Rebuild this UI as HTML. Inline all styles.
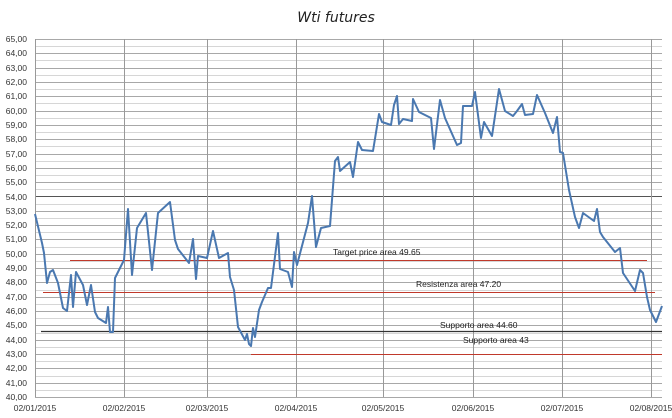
<!DOCTYPE html>
<html><head><meta charset="utf-8"><style>
body{margin:0;background:#fff}
svg{display:block;font-family:"Liberation Sans",sans-serif}
</style></head><body>
<svg width="672" height="418" viewBox="0 0 672 418" xmlns="http://www.w3.org/2000/svg">
<text x="336" y="22" text-anchor="middle" font-size="14" font-style="italic" font-family="'DejaVu Sans',sans-serif" fill="#222">Wti futures</text>
<g stroke="#d6d6d6" stroke-width="1">
<line x1="35" y1="46.5" x2="662" y2="46.5"/><line x1="35" y1="60.5" x2="662" y2="60.5"/><line x1="35" y1="75.5" x2="662" y2="75.5"/><line x1="35" y1="89.5" x2="662" y2="89.5"/><line x1="35" y1="103.5" x2="662" y2="103.5"/><line x1="35" y1="118.5" x2="662" y2="118.5"/><line x1="35" y1="132.5" x2="662" y2="132.5"/><line x1="35" y1="146.5" x2="662" y2="146.5"/><line x1="35" y1="161.5" x2="662" y2="161.5"/><line x1="35" y1="175.5" x2="662" y2="175.5"/><line x1="35" y1="189.5" x2="662" y2="189.5"/><line x1="35" y1="204.5" x2="662" y2="204.5"/><line x1="35" y1="218.5" x2="662" y2="218.5"/><line x1="35" y1="232.5" x2="662" y2="232.5"/><line x1="35" y1="247.5" x2="662" y2="247.5"/><line x1="35" y1="261.5" x2="662" y2="261.5"/><line x1="35" y1="275.5" x2="662" y2="275.5"/><line x1="35" y1="290.5" x2="662" y2="290.5"/><line x1="35" y1="304.5" x2="662" y2="304.5"/><line x1="35" y1="318.5" x2="662" y2="318.5"/><line x1="35" y1="333.5" x2="662" y2="333.5"/><line x1="35" y1="347.5" x2="662" y2="347.5"/><line x1="35" y1="361.5" x2="662" y2="361.5"/><line x1="35" y1="376.5" x2="662" y2="376.5"/><line x1="35" y1="390.5" x2="662" y2="390.5"/>
</g>
<g stroke="#a8a8a8" stroke-width="1">
<line x1="35" y1="39.5" x2="662" y2="39.5"/><line x1="35" y1="53.5" x2="662" y2="53.5"/><line x1="35" y1="68.5" x2="662" y2="68.5"/><line x1="35" y1="82.5" x2="662" y2="82.5"/><line x1="35" y1="96.5" x2="662" y2="96.5"/><line x1="35" y1="111.5" x2="662" y2="111.5"/><line x1="35" y1="125.5" x2="662" y2="125.5"/><line x1="35" y1="139.5" x2="662" y2="139.5"/><line x1="35" y1="154.5" x2="662" y2="154.5"/><line x1="35" y1="168.5" x2="662" y2="168.5"/><line x1="35" y1="182.5" x2="662" y2="182.5"/><line x1="35" y1="211.5" x2="662" y2="211.5"/><line x1="35" y1="225.5" x2="662" y2="225.5"/><line x1="35" y1="239.5" x2="662" y2="239.5"/><line x1="35" y1="254.5" x2="662" y2="254.5"/><line x1="35" y1="268.5" x2="662" y2="268.5"/><line x1="35" y1="282.5" x2="662" y2="282.5"/><line x1="35" y1="297.5" x2="662" y2="297.5"/><line x1="35" y1="311.5" x2="662" y2="311.5"/><line x1="35" y1="325.5" x2="662" y2="325.5"/><line x1="35" y1="340.5" x2="662" y2="340.5"/><line x1="35" y1="354.5" x2="662" y2="354.5"/><line x1="35" y1="368.5" x2="662" y2="368.5"/><line x1="35" y1="383.5" x2="662" y2="383.5"/><line x1="35" y1="397.5" x2="662" y2="397.5"/>
</g>
<line x1="35" y1="196.5" x2="662" y2="196.5" stroke="#555" stroke-width="1"/>
<g stroke="#999" stroke-width="1">
<line x1="35.5" y1="39" x2="35.5" y2="397"/>
<line x1="124.5" y1="39" x2="124.5" y2="397"/>
<line x1="207.5" y1="39" x2="207.5" y2="397"/>
<line x1="296.5" y1="39" x2="296.5" y2="397"/>
<line x1="383.5" y1="39" x2="383.5" y2="397"/>
<line x1="473.5" y1="39" x2="473.5" y2="397"/>
<line x1="562.5" y1="39" x2="562.5" y2="397"/>
<line x1="651.5" y1="39" x2="651.5" y2="397"/>
</g>
<g stroke="#c0392b" stroke-width="1">
<line x1="70" y1="260.5" x2="647" y2="260.5"/>
<line x1="43" y1="292.5" x2="655" y2="292.5"/>
<line x1="251" y1="354.5" x2="662" y2="354.5"/>
</g>
<line x1="41" y1="331.5" x2="662" y2="331.5" stroke="#333" stroke-width="1.2"/>
<g font-size="8.5" fill="#222">
<text x="333" y="255">Target price area 49.65</text>
<text x="416" y="287">Resistenza area 47.20</text>
<text x="440" y="328">Supporto area 44.60</text>
<text x="463" y="343">Supporto area 43</text>
</g>
<polyline fill="none" stroke="#4a78b0" stroke-width="2" stroke-linejoin="round" points="35,214 42,243 44,253 47,283 50,272 53,270 58,283 63,308 67,311 71,275 73,307 76,272 83,285 87,305 91,285 95,312 98,318 106,323 108,307 110,332 113,332 115,278 124,260 128,209 132,275 137,228 146,213 152,270 158,213 170,202 175,240 178,249 189,263 193,239 196,279 198,256 207,258 213,231 219,258 228,253 230,277 234,290 238,327 245,340 247,334 249,344 251,346 253,328 255,337 259,310 262,302 268,288 271,288 278,233 280,269 288,272 292,287 294,252 297,265 308,223 312,196 316,247 321,228 330,226 335,161 338,157 340,171 350,162 353,177 358,142 362,150 373,151 379,114 382,122 391,125 394,105 397,96 399,124 403,119 412,121 413,99 419,112 431,118 434,149 440,100 445,118 457,145 461,143 463,106 472,106 475,92 481,138 484,122 492,136 499,89 505,111 513,116 517,111 522,104 525,115 533,114 537,95 545,113 553,133 557,117 560,152 563,153 569,190 575,217 579,228 583,213 594,221 597,209 600,232 603,237 615,252 620,248 623,273 635,291 640,270 643,273 647,297 650,310 656,322 662,306"/>
<g font-size="8.5" fill="#333" text-anchor="end">
<text x="27" y="42">65,00</text><text x="27" y="56">64,00</text><text x="27" y="71">63,00</text><text x="27" y="85">62,00</text><text x="27" y="99">61,00</text><text x="27" y="114">60,00</text><text x="27" y="128">59,00</text><text x="27" y="142">58,00</text><text x="27" y="157">57,00</text><text x="27" y="171">56,00</text><text x="27" y="185">55,00</text><text x="27" y="200">54,00</text><text x="27" y="214">53,00</text><text x="27" y="228">52,00</text><text x="27" y="242">51,00</text><text x="27" y="257">50,00</text><text x="27" y="271">49,00</text><text x="27" y="285">48,00</text><text x="27" y="300">47,00</text><text x="27" y="314">46,00</text><text x="27" y="328">45,00</text><text x="27" y="343">44,00</text><text x="27" y="357">43,00</text><text x="27" y="371">42,00</text><text x="27" y="386">41,00</text><text x="27" y="400">40,00</text>
</g>
<g font-size="8.5" fill="#333" text-anchor="middle">
<text x="35" y="411">02/01/2015</text>
<text x="124" y="411">02/02/2015</text>
<text x="207" y="411">02/03/2015</text>
<text x="296" y="411">02/04/2015</text>
<text x="383" y="411">02/05/2015</text>
<text x="473" y="411">02/06/2015</text>
<text x="562" y="411">02/07/2015</text>
<text x="651" y="411">02/08/2015</text>
</g>
</svg>
</body></html>
